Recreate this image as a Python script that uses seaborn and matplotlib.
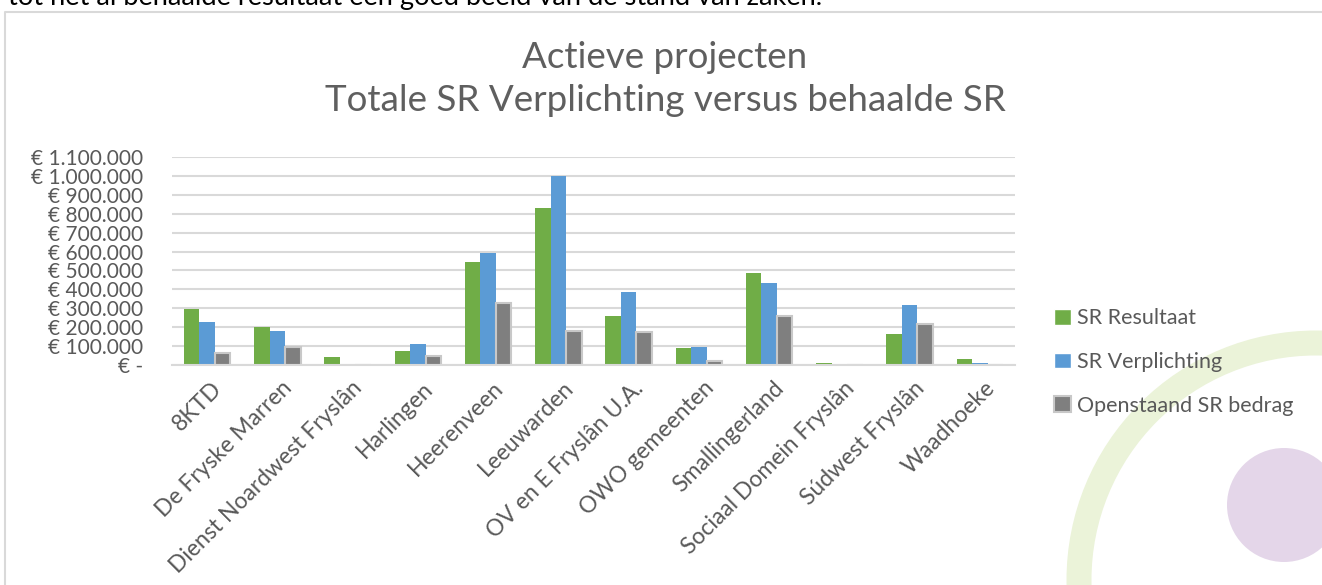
import matplotlib
matplotlib.use("Agg")
import matplotlib.pyplot as plt
import matplotlib.ticker as mticker
from matplotlib.patches import Circle, Patch
from matplotlib.lines import Line2D
from matplotlib.transforms import IdentityTransform, ScaledTranslation
import pandas as pd
import seaborn as sns

# Data
categories = ["8KTD", "De Fryske Marren", "Dienst Noardwest Fryslân", "Harlingen",
              "Heerenveen", "Leeuwarden", "OV en E Fryslân U.A.", "OWO gemeenten",
              "Smallingerland", "Sociaal Domein Fryslân", "Súdwest Fryslân", "Waadhoeke"]
sr_resultaat = [294000, 199000, 44000, 76000, 544000, 831000, 259000, 88000, 488000, 10000, 164000, 33000]
sr_verplichting = [229000, 180000, 0, 111000, 590000, 1000000, 386000, 93000, 433000, 0, 315000, 8000]
openstaand = [65000, 97000, 0, 49000, 326000, 180000, 176000, 23000, 261000, 0, 217000, 0]
series = ["SR Resultaat", "SR Verplichting", "Openstaand SR bedrag"]
colors = ["#70AD47", "#5B9BD5", "#7F7F7F"]

df = pd.DataFrame({"Project": categories * 3,
                   "Serie": [s for s in series for _ in categories],
                   "Bedrag": sr_resultaat + sr_verplichting + openstaand})

W, H = 1322, 585
sns.set_style("white")
plt.rcParams["font.family"] = ["Lato", "DejaVu Sans"]
fig = plt.figure(figsize=(W / 100, H / 100), dpi=100)
fig.patch.set_facecolor("white")


def px(x0, y0, x1, y1):
    return [x0 / W, 1 - y1 / H, (x1 - x0) / W, (y1 - y0) / H]


ax = fig.add_axes(px(172, 157, 1015, 365))
ax.set_facecolor("none")

sns.barplot(data=df, x="Project", y="Bedrag", hue="Serie", palette=colors,
            width=0.66, ax=ax, legend=False, linewidth=0, saturation=1)

# grey bars get a light outline
for bar in ax.patches[2 * len(categories):]:
    bar.set_edgecolor("#C8C8C8")
    bar.set_linewidth(1.5)

ax.set_ylim(0, 1100000)
ax.set_yticks(range(0, 1100001, 100000))
ax.yaxis.set_major_formatter(mticker.FuncFormatter(
    lambda v, p: "€ -" if v == 0 else "€ " + f"{int(v):,}".replace(",", ".")))
ax.grid(axis="y", color="#D9D9D9", linewidth=1.5)
ax.set_axisbelow(True)
for s in ["top", "right", "left"]:
    ax.spines[s].set_visible(False)
ax.spines["bottom"].set_color("#D9D9D9")
ax.spines["bottom"].set_linewidth(1.5)
ax.set_xlabel("")
ax.set_ylabel("")
ax.tick_params(axis="y", length=0, pad=21, labelsize=15, labelcolor="#595959")
ax.tick_params(axis="x", length=0, pad=9, labelsize=16.5, labelcolor="#595959")
shift = ScaledTranslation(4 / 100, 0, fig.dpi_scale_trans)
for lab in ax.get_xticklabels():
    lab.set_rotation(45)
    lab.set_ha("right")
    lab.set_va("top")
    lab.set_rotation_mode("anchor")
    lab.set_transform(lab.get_transform() + shift)

# title
fig.text(665 / W, 1 - 58 / H, "Actieve projecten", ha="center", va="center",
         fontsize=26.5, color="#5f5f5f")
fig.text(665 / W, 1 - 100 / H, "Totale SR Verplichting versus behaalde SR", ha="center",
         va="center", fontsize=26.5, color="#5f5f5f")

# legend
handles = [Patch(facecolor=colors[0]), Patch(facecolor=colors[1]),
           Patch(facecolor=colors[2], edgecolor="#C8C8C8", linewidth=1.5)]
ax.legend(handles, series, loc="upper left", bbox_to_anchor=(1035 / W, 1 - 289 / H),
          bbox_transform=fig.transFigure, frameon=False, fontsize=15.5,
          labelcolor="#595959", handlelength=0.75, handleheight=0.75,
          handletextpad=0.3, labelspacing=1.1)

# page decoration behind the chart
idt = IdentityTransform()
fig.patches.append(Circle((1316, H - 580), 237, fill=False, edgecolor="#EBF3D9",
                          linewidth=18, transform=idt, zorder=-2))
fig.patches.append(Circle((1284, H - 505), 57, facecolor="#E4D6E9", edgecolor="none",
                          transform=idt, zorder=-2))

# chart frame and the cut-off line of text above it
fig.lines.append(Line2D([5, 5, W], [0, H - 12, H - 12], color="#D9D9D9", linewidth=1.5,
                        transform=idt))
fig.text(8 / W, 1 - 5 / H, "tot het al behaalde resultaat een goed beeld van de stand van zaken.",
         ha="left", va="baseline", fontsize=19.6, color="black")

fig.savefig("out.png", dpi=100)
